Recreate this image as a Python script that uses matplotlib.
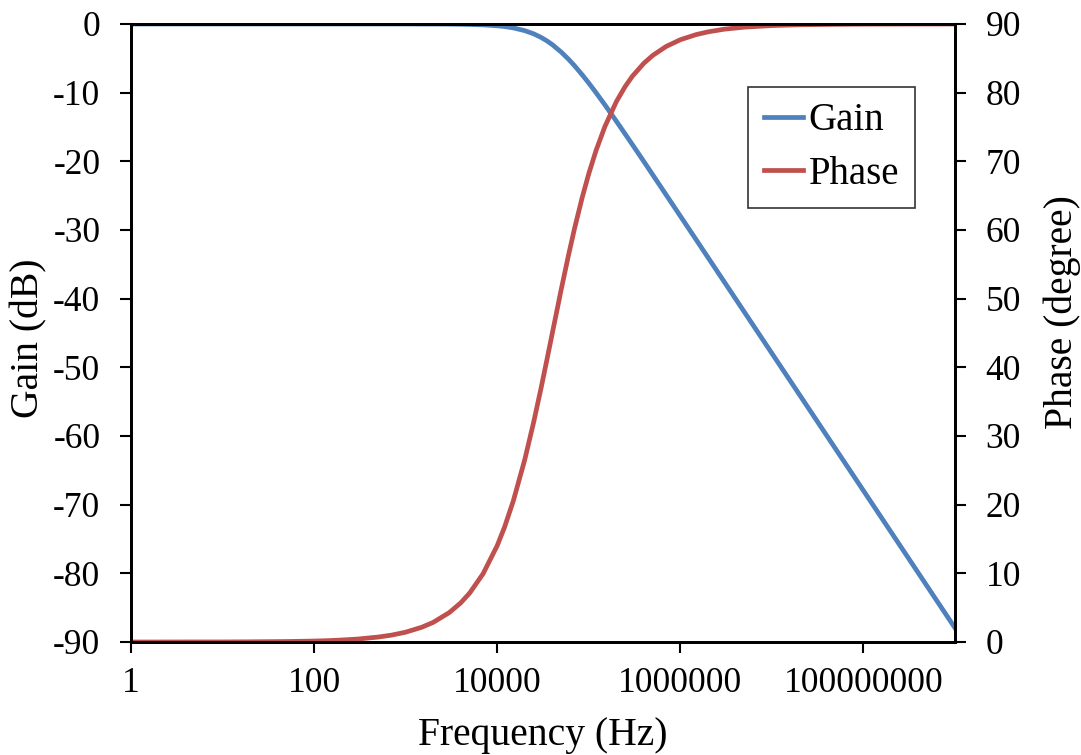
import matplotlib
matplotlib.use("Agg")
import matplotlib.pyplot as plt
from matplotlib.ticker import FixedLocator, FixedFormatter, NullLocator

# Frequency response of a first-order network (corner near 40 kHz)
freq_hz = [1, 2, 5, 10, 20, 50, 100, 150, 200, 300, 500, 700, 1000, 1500,
           2000, 3000, 4000, 5000, 7000, 10000, 12000, 15000, 20000, 25000,
           30000, 35000, 40000, 50000, 60000, 70000, 85000, 100000, 120000,
           150000, 200000, 250000, 300000, 400000, 500000, 700000, 1e6,
           1.5e6, 2e6, 3e6, 5e6, 1e7, 2e7, 5e7, 1e8, 2e8, 5e8, 1e9]
gain_db = [0.0, 0.0, 0.0, 0.0, 0.0, 0.0, 0.0, 0.0, 0.0, 0.0, 0.0, 0.0, 0.0,
           -0.01, -0.01, -0.02, -0.04, -0.07, -0.13, -0.26, -0.37, -0.57,
           -0.97, -1.43, -1.94, -2.47, -3.01, -4.09, -5.12, -6.09, -7.42,
           -8.60, -10.0, -11.78, -14.15, -16.03, -17.58, -20.04, -21.97,
           -24.88, -27.97, -31.48, -33.98, -37.50, -41.94, -47.96, -53.98,
           -61.94, -67.96, -73.98, -81.94, -87.96]
phase_deg = [0.0, 0.0, 0.01, 0.01, 0.03, 0.07, 0.14, 0.21, 0.29, 0.43, 0.72,
             1.00, 1.43, 2.15, 2.86, 4.29, 5.71, 7.13, 9.93, 14.04, 16.70,
             20.56, 26.57, 32.01, 36.87, 41.19, 45.0, 51.34, 56.31, 60.26,
             64.80, 68.20, 71.57, 75.07, 78.69, 80.91, 82.41, 84.29, 85.43,
             86.73, 87.71, 88.47, 88.85, 89.24, 89.54, 89.77, 89.89, 89.95,
             89.98, 89.99, 90.0, 90.0]

x_ticks = [1, 100, 10000, 1000000, 100000000]
x_tick_labels = ["1", "100", "10000", "1000000", "100000000"]
gain_ticks = [0, -10, -20, -30, -40, -50, -60, -70, -80, -90]
phase_ticks = [0, 10, 20, 30, 40, 50, 60, 70, 80, 90]

plt.rcParams["font.family"] = ["Liberation Serif", "DejaVu Serif"]
plt.rcParams["axes.unicode_minus"] = False

blue = "#4F81BD"
red = "#C0504D"

fig = plt.figure(figsize=(10.81, 7.55), dpi=100)
ax = fig.add_axes([131 / 1081, 1 - 642 / 755, (955 - 131) / 1081, (642 - 24) / 755])
ax2 = ax.twinx()

l1, = ax.plot(freq_hz, gain_db, color=blue, lw=3.4, label="Gain")
l2, = ax2.plot(freq_hz, phase_deg, color=red, lw=3.4, label="Phase")

ax.set_xscale("log")
ax.set_xlim(1, 1e9)
ax.set_ylim(-90, 0)
ax2.set_ylim(0, 90)

ax.xaxis.set_major_locator(FixedLocator(x_ticks))
ax.xaxis.set_major_formatter(FixedFormatter(x_tick_labels))
ax.xaxis.set_minor_locator(NullLocator())
ax.set_yticks(gain_ticks)
ax2.set_yticks(phase_ticks)

for a in (ax, ax2):
    for s in a.spines.values():
        s.set_linewidth(2)
        s.set_color("black")
    a.tick_params(axis="both", direction="out", length=8, width=1.5,
                  labelsize=25.5, colors="black")
    a.tick_params(axis="y", pad=14)
ax.tick_params(axis="x", pad=10)

ax.set_xlabel("Frequency (Hz)", fontsize=28.5, labelpad=12)
ax.set_ylabel("Gain (dB)", fontsize=28.5, labelpad=4)
ax2.set_ylabel("Phase (degree)", fontsize=28.5, labelpad=16)
ax.yaxis.label.set_y(0.492)
ax2.yaxis.label.set_y(0.534)

leg = ax2.legend(handles=[l1, l2], loc="center", bbox_to_anchor=(0.85, 0.80),
                 fontsize=28, frameon=True, fancybox=False, handlelength=1.0,
                 handletextpad=0.15, borderpad=0.4, labelspacing=0.42)
leg.get_frame().set_edgecolor("black")
leg.get_frame().set_linewidth(1.2)

fig.savefig("out.png", dpi=100)
